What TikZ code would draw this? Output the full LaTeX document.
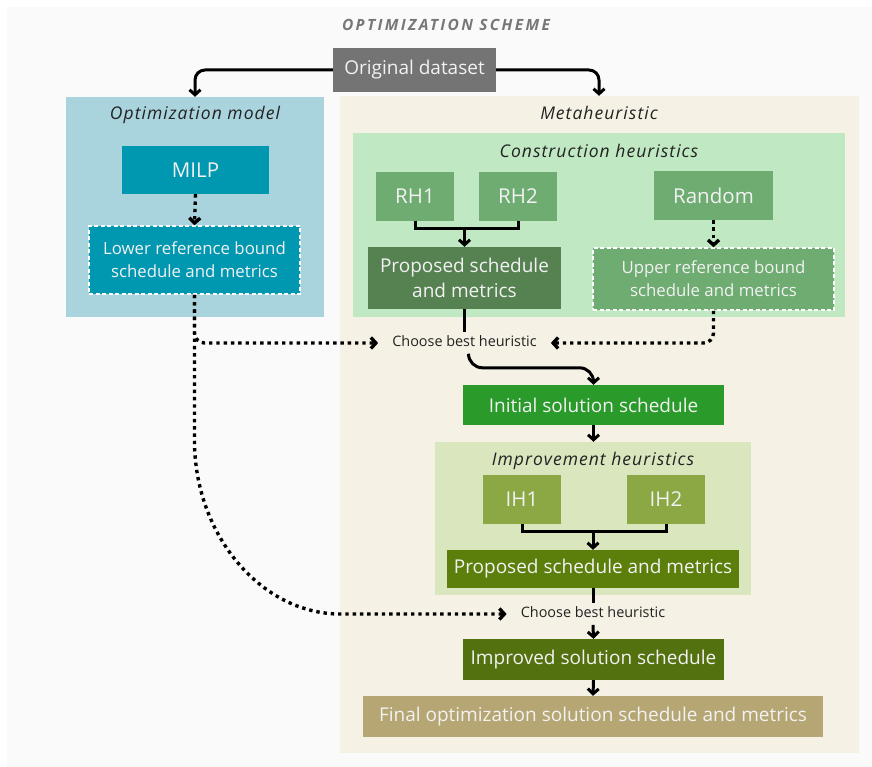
\documentclass[tikz,border=0pt]{standalone}
\usepackage{fontspec}
\setmainfont{Open Sans}
\usetikzlibrary{arrows.meta,calc}

\definecolor{bgc}{HTML}{FAFAFA}
\definecolor{origc}{HTML}{747474}
\definecolor{optc}{HTML}{AAD4DD}
\definecolor{milpc}{HTML}{0097B1}
\definecolor{metac}{HTML}{F5F2E5}
\definecolor{consc}{HTML}{C0E8C2}
\definecolor{rhc}{HTML}{6FAC72}
\definecolor{prop1c}{HTML}{568252}
\definecolor{initc}{HTML}{2A9A2A}
\definecolor{impc}{HTML}{D9E6BE}
\definecolor{ihc}{HTML}{8BA845}
\definecolor{prop2c}{HTML}{5B7F0A}
\definecolor{improvc}{HTML}{53710F}
\definecolor{finalc}{HTML}{B5A673}
\definecolor{labc}{HTML}{222222}
\definecolor{titlec}{HTML}{777777}
\definecolor{boxtext}{HTML}{F2F2F2}

\tikzset{
  panel/.style={rectangle, inner sep=0pt, draw=none},
  box/.style={rectangle, inner sep=0pt, align=center, text=boxtext,
    font=\fontsize{19}{25}\selectfont},
  bigbox/.style={box, font=\fontsize{20.5}{25}\selectfont},
  refbox/.style={box, font=\fontsize{16.8}{23}\selectfont, draw=white,
    line width=1.5pt, dash pattern=on 4pt off 2.5pt},
  grouplabel/.style={text=labc, text height=12pt, text depth=4pt, inner sep=0pt,
    font=\fontsize{17.5}{20}\selectfont\itshape\addfontfeature{LetterSpace=6}},
  choose/.style={text=labc, font=\fontsize{14.4}{16}\selectfont,
    text height=10.5pt, text depth=3pt, inner xsep=14pt, inner ysep=4pt},
  link/.style={line width=3pt, black},
  arr/.style={link, -{Straight Barb[length=5pt,width=11pt]}},
  dots/.style={line width=3.4pt, black, dash pattern=on 3.4pt off 3.9pt},
  dotarr/.style={dots, -{Straight Barb[length=5pt,width=11pt]}},
}

\begin{document}
\begin{tikzpicture}[x=1pt,y=-1pt]
\useasboundingbox (0,0) rectangle (872,767);
\fill[bgc] (7,7) rectangle (872,767);

% title
\node[text=titlec, text height=11pt, text depth=0pt, inner sep=0pt,
  font=\fontsize{15.5}{18}\selectfont\bfseries\itshape\addfontfeature{LetterSpace=15}]
  (title) at (446,25.5) {OPTIMIZATION SCHEME};

% panels
\node[panel, fill=optc, minimum width=258, minimum height=220] (optpanel) at (195,207) {};
\node[panel, fill=metac, minimum width=519, minimum height=657] (metapanel) at (599.5,424.5) {};
\node[panel, fill=consc, minimum width=492, minimum height=184] (conspanel) at (599,225) {};
\node[panel, fill=impc, minimum width=316, minimum height=153] (imppanel) at (593,518.5) {};

% panel labels
\node[grouplabel] (optlab) at (195,116) {Optimization model};
\node[grouplabel] (metalab) at (599,116) {Metaheuristic};
\node[grouplabel] (conslab) at (599,153.5) {Construction heuristics};
\node[grouplabel] (implab) at (593,461.5) {Improvement heuristics};

% source
\node[box, fill=origc, minimum width=163, minimum height=44] (orig) at (414.5,70) {Original dataset};

% optimization model
\node[bigbox, fill=milpc, minimum width=147, minimum height=48] (milp) at (195.5,170) {MILP};
\node[refbox, fill=milpc, minimum width=211, minimum height=68] (lower) at (194.5,260)
  {Lower reference bound\\schedule and metrics};

% construction heuristics
\node[bigbox, fill=rhc, minimum width=78, minimum height=49] (rh1) at (415,196.5) {RH1};
\node[bigbox, fill=rhc, minimum width=78, minimum height=49] (rh2) at (518,196.5) {RH2};
\node[bigbox, fill=rhc, minimum width=119, minimum height=49] (random) at (713.5,195.5) {Random};
\node[box, fill=prop1c, minimum width=193, minimum height=62] (prop1) at (464.5,278)
  {Proposed schedule\\and metrics};
\node[refbox, fill=rhc, minimum width=241, minimum height=62] (upper) at (713.5,279)
  {Upper reference bound\\schedule and metrics};

\node[choose] (choose1) at (464.5,343) {Choose best heuristic};
\node[box, fill=initc, minimum width=261, minimum height=40] (initial) at (593.5,405)
  {Initial solution schedule};

% improvement heuristics
\node[bigbox, fill=ihc, minimum width=78, minimum height=49] (ih1) at (522,499.5) {IH1};
\node[bigbox, fill=ihc, minimum width=78, minimum height=49] (ih2) at (666,499.5) {IH2};
\node[box, fill=prop2c, minimum width=292, minimum height=38] (prop2) at (593,569)
  {Proposed schedule and metrics};
\node[choose] (choose2) at (593,614) {Choose best heuristic};
\node[box, fill=improvc, minimum width=261, minimum height=41] (improved) at (593.5,659.5)
  {Improved solution schedule};
\node[box, fill=finalc, minimum width=460, minimum height=41] (final) at (593,716.5)
  {Final optimization solution schedule and metrics};

% dataset split
\draw[arr, rounded corners=10pt] (orig.west) -| (optpanel.north);
\draw[arr, rounded corners=10pt] (orig.east) -| ([xshift=-0.5pt]metapanel.north);

% optimization model flow
\draw[dotarr] (milp.south) -- (lower.north);
\draw[dotarr, rounded corners=10pt] (lower.south) |- (choose1.west);
\draw[dotarr] (lower.south) -- ++(0,146) .. controls +(0,95) and (262,614) .. (340,614)
  -- (choose2.west);

% construction flow
\draw[link] (rh1.south) |- ($(prop1.north)+(0,-18)$) -| (rh2.south);
\draw[arr] ($(prop1.north)+(0,-18)$) -- (prop1.north);
\draw[dotarr] (random.south) -- (upper.north);
\draw[dotarr, rounded corners=10pt] (upper.south) |- (choose1.east);
\draw[link] (prop1.south) -- (choose1.north);
\draw[arr, rounded corners=14pt] ([xshift=4pt]choose1.south) |- ($(initial.north)+(0,-17)$)
  -- (initial.north);
\draw[arr] (initial.south) -- (initial.south |- imppanel.north);

% improvement flow
\draw[link] (ih1.south) |- ($(prop2.north)+(0,-18)$) -| (ih2.south);
\draw[arr] ($(prop2.north)+(0,-18)$) -- (prop2.north);
\draw[link] (prop2.south) -- (choose2.north);
\draw[arr] (choose2.south) -- (improved.north);
\draw[arr] (improved.south) -- (final.north);
\end{tikzpicture}
\end{document}
